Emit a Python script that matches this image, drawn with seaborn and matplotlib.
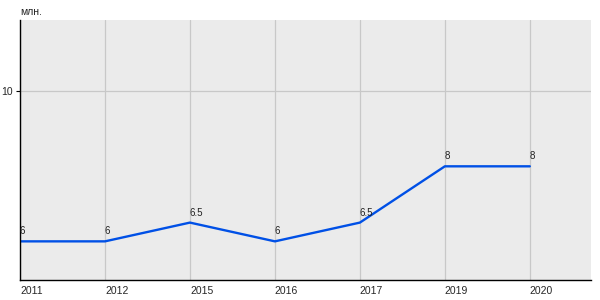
import matplotlib
matplotlib.use("Agg")
import matplotlib.pyplot as plt
import seaborn as sns
import pandas as pd

years = ["2011", "2012", "2015", "2016", "2017", "2019", "2020"]
values = [6, 6, 6.5, 6, 6.5, 8, 8]
value_labels = ["6", "6", "6.5", "6", "6.5", "8", "8"]
y_ticks = [10]
unit_label = "млн."

sns.set_theme(style="white")
plt.rcParams["font.family"] = ["Liberation Sans", "DejaVu Sans"]

df = pd.DataFrame({"pos": range(len(years)), "year": years, "value": values})

fig = plt.figure(figsize=(6, 3), dpi=100)
ax = fig.add_axes([20 / 600, 20 / 300, 571 / 600, 260 / 300])
ax.set_facecolor("#ebebeb")

sns.lineplot(data=df, x="pos", y="value", ax=ax, color="#0050e6", linewidth=1.7)

ax.set_xlim(0, 6.72)
ax.set_ylim(4.97, 11.9)

ax.set_xticks(list(df["pos"]))
ax.set_xticklabels(years, fontsize=7.5, ha="left")
ax.set_yticks(y_ticks)
ax.set_yticklabels([str(t) for t in y_ticks], fontsize=7.5)

ax.grid(True, color="#c8c8c8", linewidth=0.9)
ax.set_axisbelow(True)

ax.tick_params(axis="x", length=0, pad=4)
ax.tick_params(axis="y", length=3, width=0.8, color="black", pad=2, left=True)

for s in ["top", "right"]:
    ax.spines[s].set_visible(False)
for s in ["left", "bottom"]:
    ax.spines[s].set_color("black")
    ax.spines[s].set_linewidth(1.0)

for p, v, lbl in zip(df["pos"], values, value_labels):
    ax.annotate(lbl, (p, v), xytext=(0, 3.5), textcoords="offset points",
                ha="left", va="bottom", fontsize=7, color="#222222")

ax.set_xlabel("")
ax.set_ylabel("")
fig.text(20 / 600, 1 - 12 / 300, unit_label, fontsize=7.5, ha="left", va="center", color="#222222")

fig.savefig("out.png", dpi=100)
